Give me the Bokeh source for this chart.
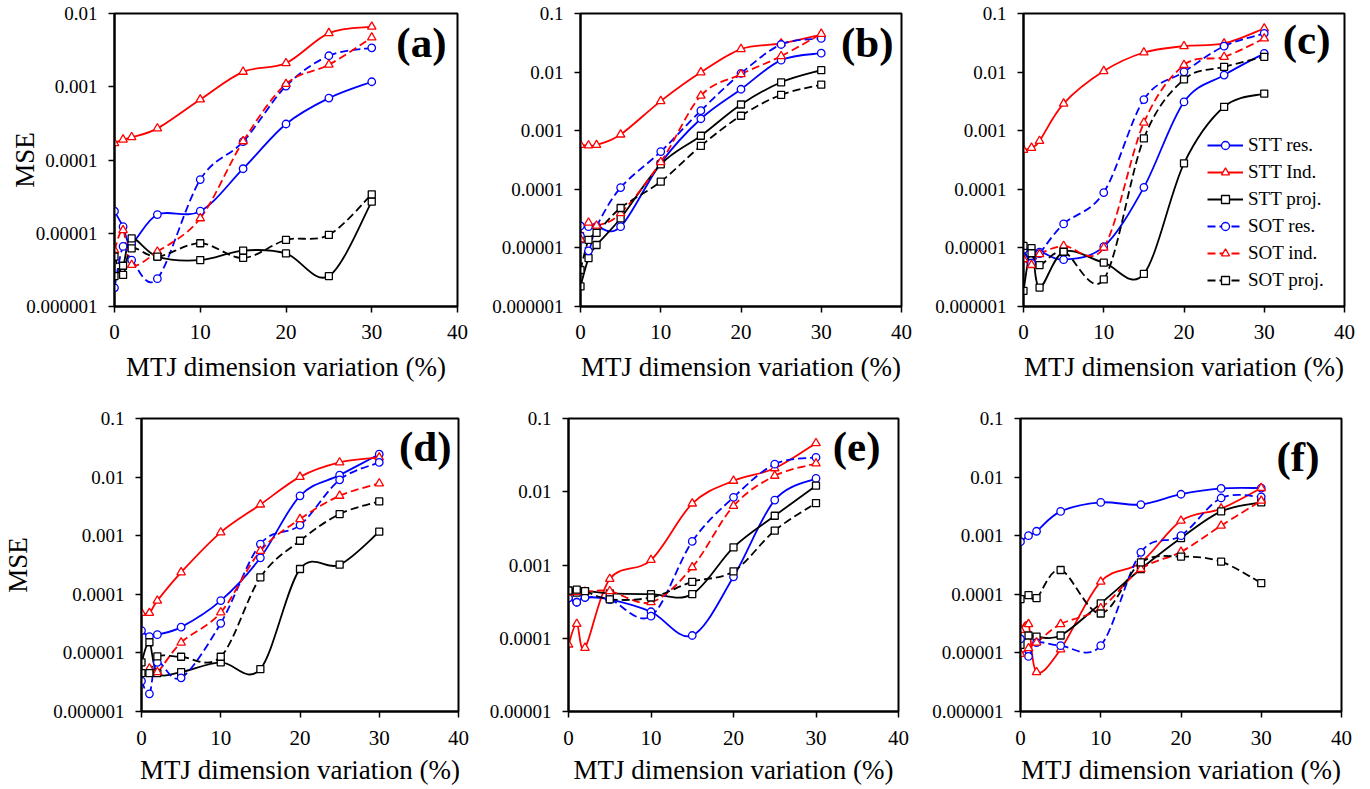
import math
from bokeh.plotting import figure
from bokeh.layouts import column, row
from bokeh.models import (Range1d, FixedTicker, CustomJSTickFormatter, Label,
                          Legend, LegendItem, ColumnDataSource)
from bokeh.embed import file_html
from bokeh.resources import INLINE

# ---------------- data ----------------
X = [0, 1, 2, 5, 10, 15, 20, 25, 30]
X_TICKS = [0, 10, 20, 30, 40]
SERIES = ["STT res.", "STT Ind.", "STT proj.", "SOT res.", "SOT ind.", "SOT proj."]
PANEL_TAGS = ["(a)", "(b)", "(c)", "(d)", "(e)", "(f)"]
X_LABEL = "MTJ dimension variation (%)"
Y_LABEL = "MSE"

# panel (a)
a_stt_res = [2.0e-5, 1.23e-5, 7.3e-6, 1.8e-5, 2.0e-5, 7.6e-5, 3.1e-4, 7.0e-4, 1.17e-3]
a_stt_ind = [1.7e-4, 1.9e-4, 2.05e-4, 2.7e-4, 6.7e-4, 1.6e-3, 2.1e-3, 5.4e-3, 6.6e-3]
a_stt_proj = [2.6e-6, 3.6e-6, 8.5e-6, 4.8e-6, 4.3e-6, 5.8e-6, 5.3e-6, 2.6e-6, 2.7e-5]
a_sot_res = [1.8e-6, 6.6e-6, 4.3e-6, 2.4e-6, 5.4e-5, 1.78e-4, 1.02e-3, 2.65e-3, 3.4e-3]
a_sot_ind = [5.9e-6, 1.1e-5, 3.7e-6, 5.6e-6, 1.6e-5, 1.8e-4, 1.09e-3, 2.0e-3, 4.7e-3]
a_sot_proj = [4.8e-6, 2.7e-6, 6.2e-6, 4.8e-6, 7.3e-6, 4.6e-6, 8.1e-6, 9.5e-6, 3.4e-5]

# panel (b)
b_stt_res = [2.37e-5, 2.3e-5, 2.3e-5, 2.3e-5, 2.8e-4, 1.6e-3, 5.1e-3, 0.016, 0.021]
b_stt_ind = [5.7e-4, 5.6e-4, 5.7e-4, 8.6e-4, 3.2e-3, 9.9e-3, 0.0247, 0.0308, 0.0438]
b_stt_proj = [2.2e-6, 6.7e-6, 1.12e-5, 3.2e-5, 2.67e-4, 8.2e-4, 2.8e-3, 6.7e-3, 0.0108]
b_sot_res = [1.6e-5, 8.9e-6, 2.3e-5, 1.07e-4, 4.4e-4, 2.2e-3, 9.5e-3, 0.0296, 0.0375]
b_sot_ind = [1.4e-5, 2.7e-5, 2.4e-5, 3.9e-5, 2.9e-4, 3.95e-3, 9.2e-3, 0.0187, 0.045]
b_sot_proj = [4.2e-6, 1.37e-5, 1.8e-5, 4.8e-5, 1.35e-4, 5.5e-4, 1.8e-3, 4.1e-3, 6.1e-3]

# panel (c)
c_stt_res = [9.4e-6, 5.5e-6, 8.5e-6, 6.3e-6, 1.05e-5, 1.08e-4, 3.1e-3, 8.9e-3, 0.0209]
c_stt_ind = [4.7e-4, 5.1e-4, 6.7e-4, 2.9e-3, 0.0104, 0.0216, 0.0277, 0.0308, 0.0555]
c_stt_proj = [1.85e-6, 9.9e-6, 2.1e-6, 8.6e-6, 5.6e-6, 3.6e-6, 2.77e-4, 2.56e-3, 4.3e-3]
c_sot_res = [9.4e-6, 5.5e-6, 8.0e-6, 2.57e-5, 8.8e-5, 3.4e-3, 0.0101, 0.0277, 0.0457]
c_sot_ind = [6.4e-6, 5.1e-6, 7.8e-6, 1.08e-5, 1.01e-5, 1.37e-3, 0.0132, 0.0182, 0.0375]
c_sot_proj = [1.08e-5, 8.1e-6, 5.1e-6, 8.6e-6, 2.9e-6, 7.4e-4, 7.5e-3, 0.0123, 0.0182]

# panel (d)
d_stt_res = [2.4e-5, 1.9e-5, 2.05e-5, 2.75e-5, 7.8e-5, 4.2e-4, 4.8e-3, 0.0108, 0.0246]
d_stt_ind = [4.8e-5, 4.8e-5, 7.8e-5, 2.37e-4, 1.14e-3, 3.4e-3, 0.0101, 0.0178, 0.0216]
d_stt_proj = [6.9e-6, 1.52e-5, 4.5e-6, 4.7e-6, 6.9e-6, 5.3e-6, 2.7e-4, 3.2e-4, 1.17e-3]
d_sot_res = [3.3e-6, 2.0e-6, 6.9e-6, 3.75e-6, 3.2e-5, 7.2e-4, 1.52e-3, 9.0e-3, 0.0178]
d_sot_ind = [4.5e-6, 5.4e-6, 4.7e-6, 1.5e-5, 4.9e-5, 5.5e-4, 1.92e-3, 4.8e-3, 7.8e-3]
d_sot_proj = [4.5e-6, 4.5e-6, 8.7e-6, 8.6e-6, 8.6e-6, 1.95e-4, 8.2e-4, 2.34e-3, 3.85e-3]

# panel (e)
e_stt_res = [3.55e-4, 3.1e-4, 3.6e-4, 3.4e-4, 2.3e-4, 1.09e-4, 6.9e-4, 7.7e-3, 0.0152]
e_stt_ind = [8.2e-5, 1.57e-4, 7.4e-5, 6.45e-4, 1.17e-3, 6.9e-3, 0.0141, 0.0209, 0.046]
e_stt_proj = [4.47e-4, 4.2e-4, 4.4e-4, 4.1e-4, 4.0e-4, 4.0e-4, 1.74e-3, 4.7e-3, 0.0121]
e_sot_res = [3.55e-4, 3.1e-4, 3.6e-4, 3.4e-4, 2.0e-4, 2.1e-3, 8.4e-3, 0.0238, 0.0294]
e_sot_ind = [4.2e-4, 4.3e-4, 4.3e-4, 4.4e-4, 3.1e-4, 9.3e-4, 6.4e-3, 0.0165, 0.0243]
e_sot_proj = [4.47e-4, 4.6e-4, 4.4e-4, 3.4e-4, 3.6e-4, 5.9e-4, 8.2e-4, 2.95e-3, 7.0e-3]

# panel (f)
f_stt_res = [7.9e-4, 1.0e-3, 1.19e-3, 2.6e-3, 3.7e-3, 3.4e-3, 5.1e-3, 6.4e-3, 6.5e-3]
f_stt_ind = [2.47e-5, 3.1e-5, 4.7e-6, 1.15e-5, 1.64e-4, 3.5e-4, 1.8e-3, 2.9e-3, 6.5e-3]
f_stt_proj = [1.37e-5, 1.98e-5, 1.9e-5, 1.98e-5, 7.0e-5, 2.7e-4, 9.1e-4, 2.6e-3, 3.7e-3]
f_sot_res = [1.73e-5, 8.7e-6, 1.5e-5, 1.33e-5, 1.33e-5, 5.2e-4, 1.0e-3, 4.4e-3, 4.6e-3]
f_sot_ind = [9.6e-6, 1.2e-5, 1.5e-5, 3.1e-5, 5.8e-5, 2.7e-4, 5.3e-4, 1.48e-3, 3.95e-3]
f_sot_proj = [8.3e-5, 9.7e-5, 8.6e-5, 2.6e-4, 4.7e-5, 3.5e-4, 4.4e-4, 3.6e-4, 1.55e-4]

Y_RANGES = [(1e-6, 1e-2), (1e-6, 1e-1), (1e-6, 1e-1), (1e-6, 1e-1), (1e-5, 1e-1), (1e-6, 1e-1)]

PANEL_DATA = [
    [a_stt_res, a_stt_ind, a_stt_proj, a_sot_res, a_sot_ind, a_sot_proj],
    [b_stt_res, b_stt_ind, b_stt_proj, b_sot_res, b_sot_ind, b_sot_proj],
    [c_stt_res, c_stt_ind, c_stt_proj, c_sot_res, c_sot_ind, c_sot_proj],
    [d_stt_res, d_stt_ind, d_stt_proj, d_sot_res, d_sot_ind, d_sot_proj],
    [e_stt_res, e_stt_ind, e_stt_proj, e_sot_res, e_sot_ind, e_sot_proj],
    [f_stt_res, f_stt_ind, f_stt_proj, f_sot_res, f_sot_ind, f_sot_proj],
]

# ---------------- styles ----------------
BLUE, RED, BLACK = "#0000ff", "#ff0000", "#000000"
STYLES = [
    (BLUE, "circle", "solid", 7.5),
    (RED, "triangle", "solid", 8.5),
    (BLACK, "square", "solid", 7),
    (BLUE, "circle", "8 4", 7.5),
    (RED, "triangle", "8 4", 8.5),
    (BLACK, "square", "8 4", 7),
]
FONT = "Liberation Serif, Times New Roman, serif"

FRAME_H = 293
GEOM = [
    dict(L=114, R=12, T=13, B=98, fw=343, ylab=-17, mls=12, als=10, tag=(11, 15)),
    dict(L=111, R=12, T=13, B=98, fw=321, ylab=None, mls=12, als=10, tag=(8, 15)),
    dict(L=110, R=12, T=13, B=98, fw=321, ylab=None, mls=12, als=10, tag=(14, 12)),
    dict(L=136, R=12, T=14, B=76, fw=322, ylab=17, mls=13, als=7, tag=(12, 14)),
    dict(L=98, R=12, T=14, B=76, fw=330, ylab=None, mls=13, als=7, tag=(18, 14)),
    dict(L=110, R=12, T=14, B=76, fw=321, ylab=None, mls=13, als=7, tag=(22, 24)),
]


def smooth_source(xs, ys):
    """Bezier segments through the data points (smoothed-line rendering in log space)."""
    u = [math.log10(v) for v in ys]
    n = len(xs)
    d = {k: [] for k in ("x0", "y0", "x1", "y1", "cx0", "cy0", "cx1", "cy1")}
    for i in range(n - 1):
        a = max(i - 1, 0)
        b = min(i + 2, n - 1)
        d["x0"].append(xs[i]); d["y0"].append(ys[i])
        d["x1"].append(xs[i + 1]); d["y1"].append(ys[i + 1])
        d["cx0"].append(xs[i] + (xs[i + 1] - xs[a]) / 6.0)
        d["cy0"].append(10 ** (u[i] + (u[i + 1] - u[a]) / 6.0))
        d["cx1"].append(xs[i + 1] - (xs[b] - xs[i]) / 6.0)
        d["cy1"].append(10 ** (u[i + 1] - (u[b] - u[i]) / 6.0))
    return ColumnDataSource(d)


fmt = CustomJSTickFormatter(code="""
const n = Math.max(0, -Math.round(Math.log10(tick)));
return tick.toFixed(n);
""")

figs = []
for k in range(6):
    g = GEOM[k]
    ymin, ymax = Y_RANGES[k]
    p = figure(width=g["L"] + g["fw"] + g["R"], height=g["T"] + FRAME_H + g["B"],
               x_range=Range1d(0, 40), y_range=Range1d(ymin, ymax), y_axis_type="log",
               output_backend="svg", toolbar_location=None, title=None,
               min_border_left=g["L"], min_border_right=g["R"],
               min_border_top=g["T"], min_border_bottom=g["B"])
    p.xgrid.visible = False
    p.ygrid.visible = False
    p.outline_line_color = "black"
    p.outline_line_width = 2
    p.background_fill_color = "white"
    p.border_fill_color = "white"

    decades = [10.0 ** e for e in range(int(round(math.log10(ymin))), int(round(math.log10(ymax))) + 1)]
    p.yaxis.ticker = FixedTicker(ticks=decades, minor_ticks=[])
    p.yaxis.formatter = fmt
    p.xaxis.ticker = FixedTicker(ticks=X_TICKS, minor_ticks=[])
    for ax in (p.xaxis[0], p.yaxis[0]):
        ax.axis_line_width = 2
        ax.axis_line_color = "black"
        ax.major_tick_out = 6
        ax.major_tick_in = 0
        ax.major_tick_line_width = 1.5
        ax.minor_tick_out = 0
        ax.minor_tick_in = 0
        ax.major_label_text_font = FONT
        ax.major_label_text_color = "black"
        ax.axis_label_text_font = FONT
        ax.axis_label_text_font_style = "normal"
        ax.axis_label_text_color = "black"
        ax.axis_label_text_font_size = "27px"
    p.xaxis.major_label_text_font_size = "21px"
    p.yaxis.major_label_text_font_size = "19px"
    p.xaxis.major_label_standoff = g["mls"]
    p.xaxis.axis_label_standoff = g["als"]
    p.yaxis.major_label_standoff = 11
    p.xaxis.axis_label = X_LABEL
    if g["ylab"] is not None:
        p.yaxis.axis_label = Y_LABEL
        p.yaxis.axis_label_standoff = g["ylab"]

    series = PANEL_DATA[k]
    line_rs = []
    for s, ys in enumerate(series):
        color, marker, dash, size = STYLES[s]
        r = p.bezier(x0="x0", y0="y0", x1="x1", y1="y1", cx0="cx0", cy0="cy0",
                     cx1="cx1", cy1="cy1", source=smooth_source(X, ys),
                     line_color=color, line_width=1.8, line_dash=dash)
        line_rs.append(r)
    mark_rs = []
    for s, ys in enumerate(series):
        color, marker, dash, size = STYLES[s]
        m = p.scatter(x=X, y=ys, marker=marker, size=size, line_color=color,
                      fill_color="white", line_width=1.3)
        mark_rs.append(m)

    ro, to = g["tag"]
    p.add_layout(Label(x=g["fw"] - ro, y=FRAME_H - to + 10, x_units="screen", y_units="screen",
                       text=PANEL_TAGS[k], text_font=FONT, text_font_style="bold",
                       text_font_size="43px", text_align="right", text_baseline="top",
                       text_color="black"))

    if k == 2:
        items = [LegendItem(label=SERIES[s], renderers=[line_rs[s], mark_rs[s]]) for s in range(6)]
        leg = Legend(items=items, location=(184, 15), glyph_width=36, glyph_height=20,
                     label_height=20, label_standoff=5, spacing=5, padding=0, margin=0,
                     label_text_font=FONT, label_text_font_size="19px",
                     label_text_color="black", border_line_alpha=0,
                     background_fill_alpha=0)
        p.add_layout(leg)
    figs.append(p)

layout = column(row(figs[0], figs[1], figs[2]), row(figs[3], figs[4], figs[5]))
open("out.html", "w").write(file_html(layout, INLINE))
